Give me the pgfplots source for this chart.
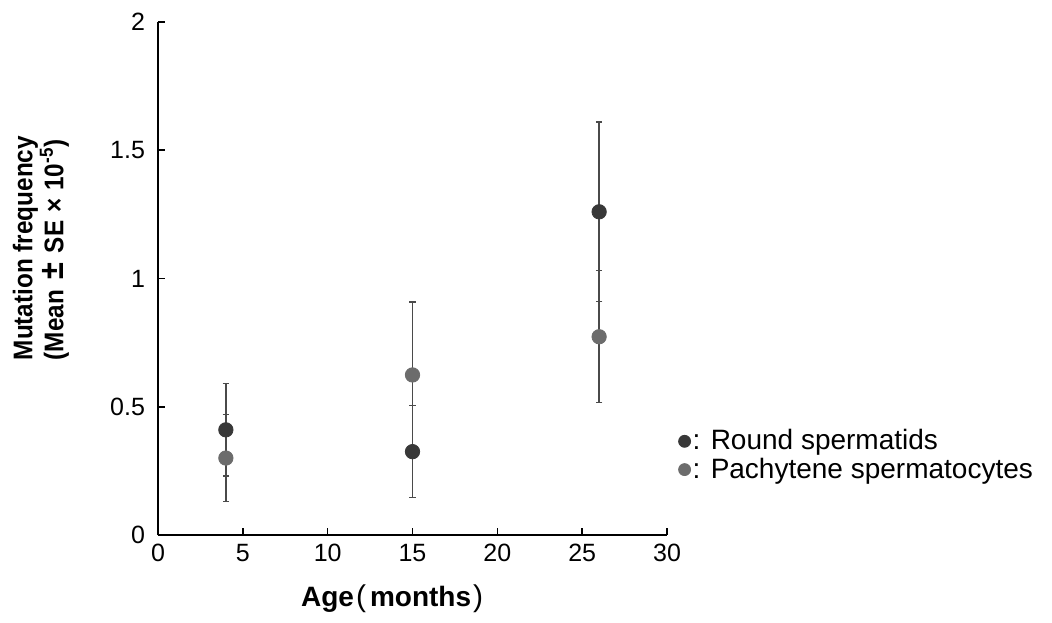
\documentclass[border=0pt]{standalone}
\usepackage{fontspec}
\setmainfont{Liberation Sans}
\newfontfamily\labelfont[FakeStretch=0.9]{Liberation Sans}
\usepackage{pgfplots}
\pgfplotsset{compat=1.18}

\definecolor{roundcol}{HTML}{383838}
\definecolor{pachycol}{HTML}{6C6C6C}
\definecolor{barcol}{HTML}{4A4A4A}

\begin{document}
\begin{tikzpicture}
\begin{axis}[
  name=ax,
  at={(0,0)}, anchor=south west,
  scale only axis,
  width=254.5pt, height=256.5pt,
  xmin=0, xmax=30, ymin=0, ymax=2,
  axis lines=left,
  axis line style={-, line width=0.9pt, black},
  xtick={0,5,...,30},
  ytick={0,0.5,1,1.5,2},
  tick align=inside,
  major tick length=3.5pt,
  tick style={line width=0.8pt, black},
  /pgf/number format/assume math mode=true,
  ticklabel style={font=\fontsize{12.5}{12.5}\selectfont},
  xticklabel style={yshift=-1pt},
  yticklabel style={xshift=-3pt},
  xlabel={Age\kern1pt{\mdseries\fontsize{15}{15}\selectfont(}\kern2pt months\kern1pt{\mdseries\fontsize{15}{15}\selectfont)}},
  xlabel style={font=\bfseries\fontsize{14}{14}\selectfont,
    at={(axis description cs:0.46,-0.125)}, anchor=center},
  ylabel={Mutation frequency\\(Mean\hspace{5pt}{\fontsize{17}{13.5}\selectfont ±}\hspace{5pt}SE\hspace{4pt}×\hspace{4pt}10\textsuperscript{-5})},
  ylabel style={font=\labelfont\bfseries\fontsize{13.5}{13.5}\selectfont, align=left,
    at={(axis description cs:-0.23,0.327)}, anchor=west},
  clip=false,
  error bars/error bar style={line width=0.65pt, barcol},
  error bars/error mark options={rotate=90, mark size=1.6pt, line width=0.65pt, barcol},
  legend style={at={(axis description cs:1.022,0.21)}, anchor=north west,
    draw=none, fill=none, inner sep=0pt,
    font=\fontsize{14}{14}\selectfont,
    row sep=0.5pt,
    nodes={inner sep=1pt}},
  legend cell align=left,
  legend image code/.code={\draw[#1, mark size=3pt] plot coordinates {(0.12cm,0cm)};},
]
% Round spermatids
\addplot[only marks, mark=*, mark size=3.6pt, roundcol,
  mark options={draw=roundcol, fill=roundcol},
  error bars/.cd, y dir=both, y explicit]
  coordinates {
    (4,0.41) +- (0,0.18)
    (15,0.325) +- (0,0.18)
    (26,1.26) +- (0,0.35)
  };
\addlegendentry{: Round spermatids}
% Pachytene spermatocytes
\addplot[only marks, mark=*, mark size=3.6pt, pachycol,
  mark options={draw=pachycol, fill=pachycol},
  error bars/.cd, y dir=both, y explicit]
  coordinates {
    (4,0.30) +- (0,0.17)
    (15,0.624) +- (0,0.284)
    (26,0.773) +- (0,0.257)
  };
\addlegendentry{: Pachytene spermatocytes}
\end{axis}
\pgfresetboundingbox
\path (-79pt,-43.5pt) rectangle (447pt,267.5pt);
\end{tikzpicture}
\end{document}
